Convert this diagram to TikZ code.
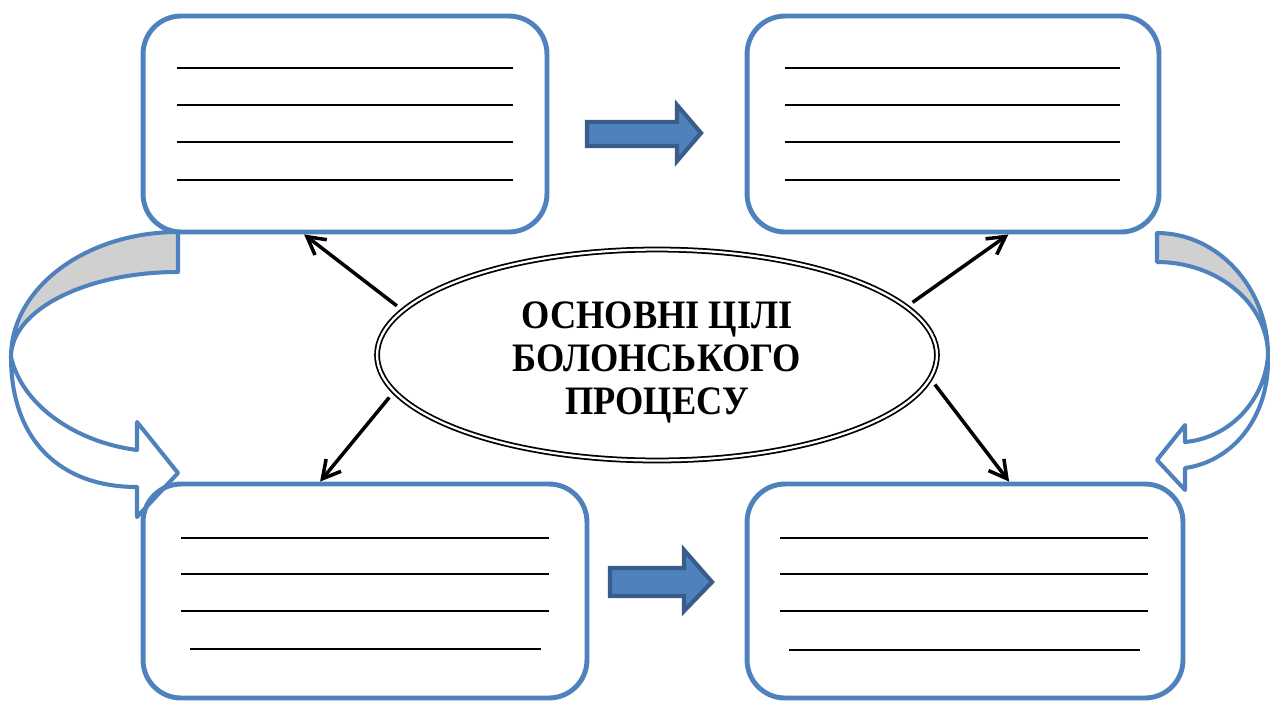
\documentclass[tikz,border=0pt]{standalone}
\usepackage{fontspec}
\setmainfont{Liberation Serif}
\usetikzlibrary{shapes.geometric,arrows.meta,calc}
\definecolor{boxblue}{RGB}{79,129,189}
\definecolor{arrowedge}{RGB}{56,93,138}
\definecolor{backgray}{RGB}{208,208,208}
\tikzset{
  goalbox/.style={draw=boxblue, line width=2.8pt, rounded corners=0.76cm,
    minimum height=4.32cm, inner sep=0pt},
  blank/.style={line width=1pt},
  bendband/.style={draw=boxblue, line width=2.3pt, line join=round},
  blockarrow/.style={draw=arrowedge, fill=boxblue, line width=2.4pt},
  >={Straight Barb[length=10pt,width=11pt]}
}

\begin{document}
\begin{tikzpicture}[x=0.02cm, y=-0.02cm]
  \useasboundingbox (0,0) rectangle (1270,700);

  % curved arrows at the sides
  \draw[bendband, fill=backgray] (178,232) .. controls (86,232) and (11,288) .. (11,357)
    .. controls (11,310) and (86,272) .. (178,272) -- cycle;
  \draw[bendband, fill=white] (11,357) .. controls (11,440) and (60,487) .. (137,487)
    -- (137,517) -- (178,473) -- (137,422) -- (137,450)
    .. controls (75,442) and (22,405) .. (11,357) -- cycle;
  \draw[bendband, fill=backgray] (1157,233) .. controls (1218,233) and (1268,288) .. (1268,355)
    .. controls (1268,304) and (1218,262) .. (1157,262) -- cycle;
  \draw[bendband, fill=white] (1268,355) .. controls (1270,420) and (1230,462) .. (1185,468)
    -- (1185,490) -- (1157,460) -- (1185,425) -- (1185,442)
    .. controls (1230,438) and (1265,400) .. (1268,355) -- cycle;

  % boxes
  \node[goalbox, minimum width=8.08cm] (tl) at (345,124) {};
  \node[goalbox, minimum width=8.24cm] (tr) at (953,124) {};
  \node[goalbox, minimum width=8.88cm, minimum height=4.28cm] (bl) at (365,591) {};
  \node[goalbox, minimum width=8.72cm, minimum height=4.28cm] (br) at (965,591) {};

  % blank lines to fill in
  \foreach \y in {68,105,142,180} {
    \draw[blank] (177,\y) -- (513,\y);
    \draw[blank] (785,\y) -- (1120,\y);
  }
  \foreach \y in {538,574,611} {
    \draw[blank] (181,\y) -- (549,\y);
    \draw[blank] (780,\y) -- (1148,\y);
  }
  \draw[blank] (190,649) -- (541,649);
  \draw[blank] (789,650) -- (1140,650);

  % block arrows
  \draw[blockarrow] (587,122) -- (677,122) -- (677,105) -- (701,133)
    -- (677,161) -- (677,146) -- (587,146) -- cycle;
  \draw[blockarrow] (610,568) -- (684,568) -- (684,550) -- (712,582)
    -- (684,611) -- (684,596) -- (610,596) -- cycle;

  % centre
  \node[ellipse, draw, double, double distance=1.3pt, line width=1pt,
    minimum width=11.2cm, minimum height=4.22cm, inner sep=0pt,
    font=\bfseries\fontsize{23}{24.4}\selectfont] (goal) at (657,355)
    {\raisebox{-10.8pt}[0pt][0pt]{\scalebox{0.9}[1]{\begin{tabular}{@{}c@{}}
      ОСНОВНІ ЦІЛІ\\БОЛОНСЬКОГО\\ПРОЦЕСУ\end{tabular}}}};

  \begin{scope}[->, line width=2pt, shorten <=4pt]
    \draw (goal.170) to ($(tl.south west)!0.4!(tl.south east)$);
    \draw (goal.11.3) to ($(tr.south west)!0.633!(tr.south east)$);
    \draw (goal.188) to ($(bl.north west)!0.4!(bl.north east)$);
    \draw (goal.355.6) to ($(br.north west)!0.6!(br.north east)$);
  \end{scope}
\end{tikzpicture}
\end{document}
